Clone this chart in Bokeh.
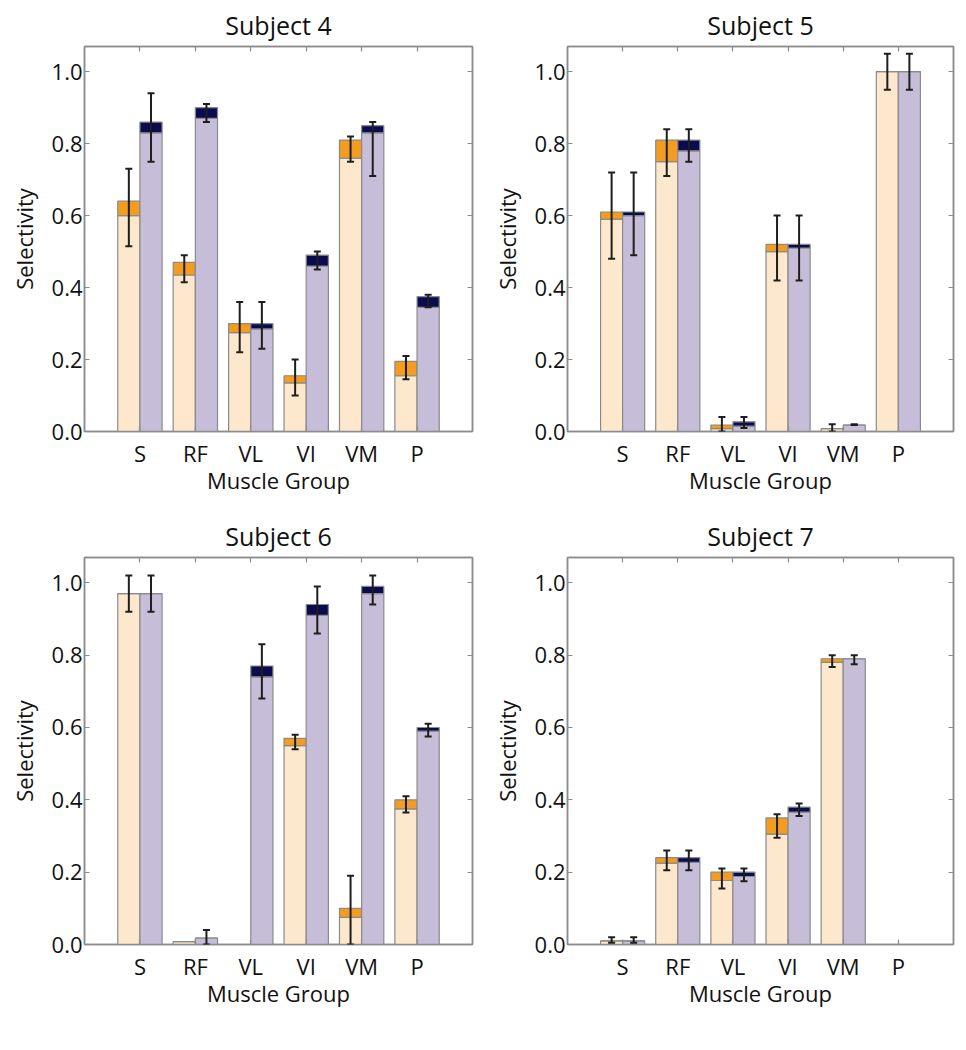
import numpy as np
from bokeh.plotting import figure
from bokeh.models import (ColumnDataSource, Whisker, TeeHead, LinearAxis,
                          FixedTicker, PrintfTickFormatter, Range1d)
from bokeh.layouts import column, row
from bokeh.embed import file_html
from bokeh.resources import INLINE

muscles = ["S", "RF", "VL", "VI", "VM", "P"]
titles = ["Subject 4", "Subject 5", "Subject 6", "Subject 7"]
y_ticks = [0.0, 0.2, 0.4, 0.6, 0.8, 1.0]
nan = float("nan")

# Subject 4
s4_orange_base = [0.60, 0.435, 0.275, 0.135, 0.76, 0.155]
s4_orange_top = [0.64, 0.47, 0.30, 0.155, 0.81, 0.195]
s4_orange_err_lo = [0.515, 0.415, 0.22, 0.10, 0.75, 0.145]
s4_orange_err_hi = [0.73, 0.49, 0.36, 0.20, 0.82, 0.21]
s4_navy_base = [0.83, 0.87, 0.285, 0.46, 0.83, 0.345]
s4_navy_top = [0.86, 0.90, 0.30, 0.49, 0.85, 0.375]
s4_navy_err_lo = [0.75, 0.86, 0.23, 0.45, 0.71, 0.345]
s4_navy_err_hi = [0.94, 0.91, 0.36, 0.50, 0.86, 0.38]

# Subject 5
s5_orange_base = [0.59, 0.75, 0.008, 0.50, 0.008, 1.0]
s5_orange_top = [0.61, 0.81, 0.018, 0.52, 0.008, 1.0]
s5_orange_err_lo = [0.48, 0.71, 0.0, 0.42, 0.0, 0.95]
s5_orange_err_hi = [0.72, 0.84, 0.04, 0.60, 0.02, 1.05]
s5_navy_base = [0.60, 0.78, 0.015, 0.51, 0.018, 1.0]
s5_navy_top = [0.61, 0.81, 0.027, 0.52, 0.018, 1.0]
s5_navy_err_lo = [0.49, 0.75, 0.01, 0.42, 0.018, 0.95]
s5_navy_err_hi = [0.72, 0.84, 0.04, 0.60, 0.02, 1.05]

# Subject 6
s6_orange_base = [0.97, 0.008, 0.0, 0.55, 0.075, 0.375]
s6_orange_top = [0.97, 0.008, 0.0, 0.57, 0.10, 0.40]
s6_orange_err_lo = [0.92, nan, nan, 0.54, 0.0, 0.365]
s6_orange_err_hi = [1.02, nan, nan, 0.58, 0.19, 0.41]
s6_navy_base = [0.97, 0.018, 0.74, 0.91, 0.97, 0.59]
s6_navy_top = [0.97, 0.018, 0.77, 0.94, 0.99, 0.60]
s6_navy_err_lo = [0.92, 0.0, 0.68, 0.86, 0.94, 0.575]
s6_navy_err_hi = [1.02, 0.04, 0.83, 0.99, 1.02, 0.61]

# Subject 7
s7_orange_base = [0.01, 0.225, 0.177, 0.305, 0.78, 0.0]
s7_orange_top = [0.01, 0.24, 0.20, 0.35, 0.79, 0.0]
s7_orange_err_lo = [0.005, 0.205, 0.155, 0.295, 0.767, nan]
s7_orange_err_hi = [0.02, 0.26, 0.21, 0.36, 0.80, nan]
s7_navy_base = [0.01, 0.227, 0.188, 0.366, 0.79, 0.0]
s7_navy_top = [0.01, 0.24, 0.20, 0.38, 0.79, 0.0]
s7_navy_err_lo = [0.005, 0.205, 0.175, 0.355, 0.775, nan]
s7_navy_err_hi = [0.02, 0.26, 0.21, 0.39, 0.80, nan]

subjects = [
    (s4_orange_base, s4_orange_top, s4_orange_err_lo, s4_orange_err_hi,
     s4_navy_base, s4_navy_top, s4_navy_err_lo, s4_navy_err_hi),
    (s5_orange_base, s5_orange_top, s5_orange_err_lo, s5_orange_err_hi,
     s5_navy_base, s5_navy_top, s5_navy_err_lo, s5_navy_err_hi),
    (s6_orange_base, s6_orange_top, s6_orange_err_lo, s6_orange_err_hi,
     s6_navy_base, s6_navy_top, s6_navy_err_lo, s6_navy_err_hi),
    (s7_orange_base, s7_orange_top, s7_orange_err_lo, s7_orange_err_hi,
     s7_navy_base, s7_navy_top, s7_navy_err_lo, s7_navy_err_hi),
]

FONT = "Open Sans"
FRAME = "#8c8c8c"
PEACH, ORANGE = "#fde8cd", "#f39c1d"
LAVENDER, NAVY = "#c6bed8", "#0b0b50"
ERR = "#1e1e1e"

# (width, height, border_left, border_right, border_top, border_bottom)
geom = [
    (488, 511, 84, 16, 46, 80),
    (470, 511, 78, 5, 46, 80),
    (488, 513, 84, 16, 46, 80),
    (470, 513, 78, 5, 46, 80),
]

xs = np.arange(1, len(muscles) + 1)
label_map = {int(i): m for i, m in zip(xs, muscles)}


def style_axis(ax, ticker, labels=True):
    ax.ticker = ticker
    ax.axis_line_color = FRAME
    ax.axis_line_width = 1.5
    ax.major_tick_line_color = FRAME
    ax.major_tick_line_width = 1.2
    ax.major_tick_in = 5
    ax.major_tick_out = 0
    ax.minor_tick_line_color = None
    if not labels:
        ax.major_label_text_color = None
        ax.major_label_text_font_size = "1px"
        ax.major_label_standoff = 0
    else:
        ax.major_label_text_font = FONT
        ax.major_label_text_font_size = "22px"
        ax.major_label_text_color = "#111111"


figs = []
for k, (title, data, g) in enumerate(zip(titles, subjects, geom)):
    ob, ot, oel, oeh, nb, nt, nel, neh = data
    w, h, bl, br, bt, bb = g
    p = figure(width=w, height=h, x_range=Range1d(0, 7), y_range=Range1d(0, 1.07),
               output_backend="svg", toolbar_location=None,
               min_border_left=bl, min_border_right=br,
               min_border_top=bt, min_border_bottom=bb,
               background_fill_color="white", border_fill_color="white")
    p.title.text = title
    p.title.align = "center"
    p.title.text_font = FONT
    p.title.text_font_size = "25px"
    p.title.text_font_style = "normal"
    p.title.text_color = "#111111"
    p.title.standoff = 9
    p.outline_line_color = FRAME
    p.outline_line_width = 1.5
    p.xgrid.visible = False
    p.ygrid.visible = False

    src_o = ColumnDataSource(dict(x=xs - 0.2, base=ob, top=ot, elo=oel, ehi=oeh))
    src_n = ColumnDataSource(dict(x=xs + 0.2, base=nb, top=nt, elo=nel, ehi=neh))

    for src, light, dark in ((src_o, PEACH, ORANGE), (src_n, LAVENDER, NAVY)):
        p.vbar(x="x", width=0.4, bottom=0, top="base", source=src,
               fill_color=light, line_color="#8a8a8a", line_width=1.2)
        p.vbar(x="x", width=0.4, bottom="base", top="top", source=src,
               fill_color=dark, line_color="#8a8a8a", line_width=1.2)
        wh = Whisker(source=src, base="x", lower="elo", upper="ehi",
                     line_color=ERR, line_width=2, level="overlay",
                     upper_head=TeeHead(size=7, line_color=ERR, line_width=2),
                     lower_head=TeeHead(size=7, line_color=ERR, line_width=2))
        p.add_layout(wh)

    xt = FixedTicker(ticks=list(xs))
    yt = FixedTicker(ticks=y_ticks)
    style_axis(p.xaxis[0], xt)
    p.xaxis[0].major_label_overrides = label_map
    p.xaxis[0].major_label_standoff = 6
    p.xaxis[0].axis_label = "Muscle Group"
    p.xaxis[0].axis_label_standoff = -6
    style_axis(p.yaxis[0], yt)
    p.yaxis[0].formatter = PrintfTickFormatter(format="%.1f")
    p.yaxis[0].major_label_standoff = 2
    p.yaxis[0].axis_label = "Selectivity"
    p.yaxis[0].axis_label_standoff = 10
    for ax in (p.xaxis[0], p.yaxis[0]):
        ax.axis_label_text_font = FONT
        ax.axis_label_text_font_size = "22px"
        ax.axis_label_text_font_style = "normal"
        ax.axis_label_text_color = "#111111"

    top_ax = LinearAxis()
    style_axis(top_ax, FixedTicker(ticks=list(xs)), labels=False)
    p.add_layout(top_ax, "above")
    right_ax = LinearAxis()
    style_axis(right_ax, FixedTicker(ticks=y_ticks), labels=False)
    p.add_layout(right_ax, "right")
    figs.append(p)

layout = column(row(figs[0], figs[1]), row(figs[2], figs[3]))
open("out.html", "w").write(file_html(layout, INLINE))
